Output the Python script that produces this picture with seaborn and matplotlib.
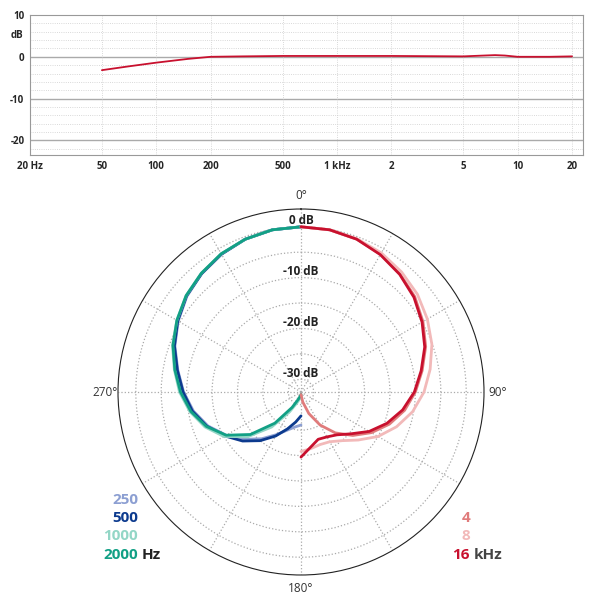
import numpy as np
import pandas as pd
import matplotlib.pyplot as plt
import seaborn as sns

plt.switch_backend('Agg')
sns.set_style('white')
plt.rcParams['font.family'] = 'Open Sans'

# Frequency response (top chart)
freq_hz = [50, 70, 100, 150, 200, 300, 500, 1000, 2000, 5000, 6500, 7500, 8500, 10000, 15000, 20000]
resp_db = [-3.2, -2.3, -1.4, -0.5, 0.0, 0.1, 0.2, 0.2, 0.2, 0.1, 0.3, 0.4, 0.3, 0.0, 0.0, 0.1]
freq_ticks = [20, 50, 100, 200, 500, 1000, 2000, 5000, 10000, 20000]
freq_labels = ['20 Hz', '50', '100', '200', '500', '1 kHz', '2', '5', '10', '20']

# Polar patterns, dB at angles 0..180 (low bands drawn on the left half)
angles = list(range(0, 181, 10))
low = {
    '250':  [0, -0.1, -0.5, -1.2, -2.1, -3.2, -4.6, -6.1, -7.9, -9.4, -11.0, -13.0, -15.5, -18.0, -20.5, -22.8, -24.5, -25.5, -26.0],
    '500':  [0, -0.1, -0.5, -1.2, -2.1, -3.1, -4.5, -6.0, -7.8, -9.3, -10.8, -12.8, -15.2, -17.5, -20.0, -22.5, -24.8, -26.5, -27.8],
    '1000': [0, -0.1, -0.5, -1.1, -2.0, -3.0, -4.3, -5.6, -7.2, -8.6, -10.3, -12.4, -15.0, -18.8, -23.5, -28.0, -30.3, -31.2, -31.5],
    '2000': [0, -0.1, -0.5, -1.1, -2.0, -3.0, -4.3, -5.7, -7.3, -8.8, -10.5, -12.7, -15.5, -19.5, -24.5, -29.0, -31.0, -31.7, -32.0],
}
high = {
    '4':  [0, -0.1, -0.5, -1.2, -2.2, -3.3, -4.8, -6.4, -8.3, -10.0, -11.8, -14.0, -16.5, -19.2, -22.0, -25.0, -28.0, -30.5, -32.0],
    '8':  [0, -0.1, -0.4, -0.9, -1.7, -2.6, -3.8, -5.1, -6.7, -8.3, -10.2, -12.5, -15.0, -17.8, -20.0, -21.2, -21.5, -21.2, -20.8],
    '16': [0, -0.1, -0.5, -1.3, -2.3, -3.5, -5.0, -6.6, -8.5, -10.2, -12.2, -14.5, -17.0, -19.7, -21.5, -22.3, -22.6, -21.5, -19.7],
}
colors = {'250': '#8c9fd2', '500': '#0c3a8e', '1000': '#93d6c6', '2000': '#12a085',
          '4': '#e07b7b', '8': '#f2b9b9', '16': '#c8102e'}

fig = plt.figure(figsize=(6, 6), dpi=100)

# Top: frequency response
ax = fig.add_axes([30 / 600, 1 - 155 / 600, 553 / 600, 140 / 600])
sns.lineplot(x=freq_hz, y=resp_db, ax=ax, color='#c8102e', lw=1.3)
ax.set_xscale('log')
ax.set_xlim(20, 23000)
ax.set_ylim(-23.5, 10)
ax.set_xticks(freq_ticks)
ax.set_xticklabels(freq_labels)
ax.minorticks_off()
ax.set_yticks([10, 0, -10, -20])
ax.set_yticklabels(['10', '0', '-10', '-20'])
for y in np.arange(-22, 10, 2):
    ax.axhline(y, color='#cccccc', lw=0.6, ls=':', zorder=0)
for y in [0, -10, -20]:
    ax.axhline(y, color='#aaaaaa', lw=1, zorder=0)
for f in freq_ticks:
    ax.axvline(f, color='#cccccc', lw=0.6, ls=':', zorder=0)
ax.tick_params(length=0, labelsize=7, pad=4)
for t in ax.get_xticklabels() + ax.get_yticklabels():
    t.set_fontweight('bold')
for s in ax.spines.values():
    s.set_color('#999999')
ax.text(-0.012, 0.85, 'dB', transform=ax.transAxes, ha='right', va='center',
        fontsize=7, fontweight='bold')

# Bottom: polar pattern
rmin, rmax = -32.5, 3.5
pa = fig.add_axes([118 / 600, 1 - 575 / 600, 366 / 600, 366 / 600], projection='polar')
pa.set_theta_zero_location('N')
pa.set_theta_direction(-1)
for name, vals in low.items():
    th = np.deg2rad(360 - np.array(angles))
    sns.lineplot(x=th, y=vals, ax=pa, color=colors[name], lw=2, sort=False)
for name, vals in high.items():
    th = np.deg2rad(np.array(angles))
    sns.lineplot(x=th, y=vals, ax=pa, color=colors[name], lw=2, sort=False)
pa.set_ylim(rmin, rmax)
pa.set_yticks(np.arange(-30, 1, 5))
pa.set_yticklabels([])
pa.set_xticks(np.deg2rad(np.arange(0, 360, 30)))
pa.set_xticklabels([])
pa.grid(True, color='#aaaaaa', ls=':', lw=0.9)
pa.spines['polar'].set_color('#222222')
pa.spines['polar'].set_linewidth(0.8)
pa.set_xlabel('')
pa.set_ylabel('')
for db in [0, -10, -20, -30]:
    pa.text(0, db + 1.2, f'{db} dB', ha='center', va='center', fontsize=8.5,
            fontweight='bold', color='#222222')
for deg, lab in [(0, '0°'), (90, '90°'), (180, '180°'), (270, '270°')]:
    pa.text(np.deg2rad(deg), rmax + 2.6, lab, ha='center', va='center', fontsize=8.5, color='#333333')

# Legends
ys = [500, 518, 536, 555]
for (name, y) in zip(low, ys):
    fig.text(138 / 600, 1 - y / 600, name, ha='right', va='center', fontsize=11,
             fontweight='bold', color=colors[name])
fig.text(142 / 600, 1 - 555 / 600, 'Hz', ha='left', va='center', fontsize=11,
         fontweight='bold', color='#222222')
for (name, y) in zip(high, ys[1:]):
    fig.text(470 / 600, 1 - y / 600, name, ha='right', va='center', fontsize=11,
             fontweight='bold', color=colors[name])
fig.text(474 / 600, 1 - 555 / 600, 'kHz', ha='left', va='center', fontsize=11,
         fontweight='bold', color='#444444')

fig.savefig('out.png', dpi=100)
